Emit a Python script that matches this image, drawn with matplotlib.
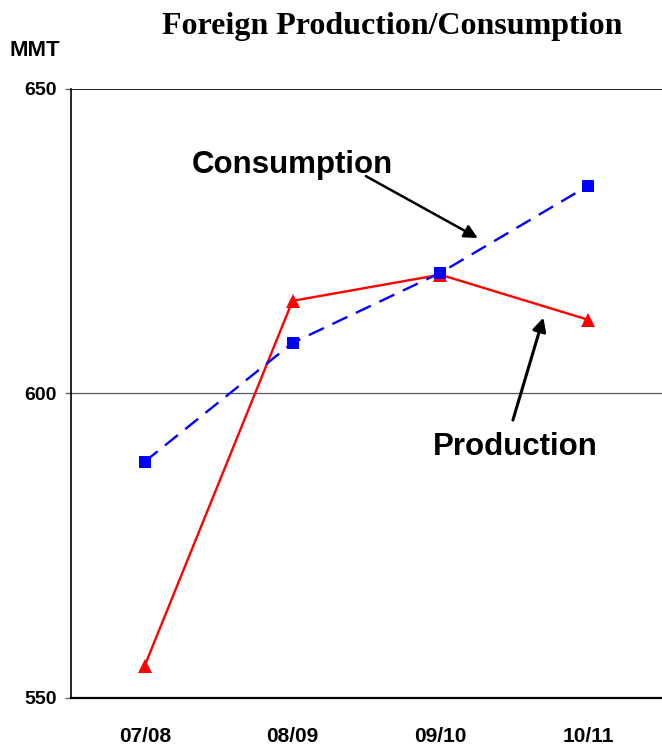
import matplotlib.pyplot as plt

# -------------------------------
# Data
# -------------------------------
years = ["07/08", "08/09", "09/10", "10/11"]
consumption = [588.8, 608.3, 619.8, 634.1]
production = [555.3, 615.2, 619.5, 612.1]
y_ticks = [550, 600, 650]

# -------------------------------
# Figure
# -------------------------------
fig = plt.figure(figsize=(6.62, 7.51), dpi=100)
ax = fig.add_axes([0.107, 0.0706, 0.893, 0.811])

x = range(len(years))
ax.plot(x, production, color="red", linewidth=1.7, marker="^", markersize=10,
        markeredgewidth=0, zorder=3)
ax.plot(x, consumption, color="blue", linewidth=1.7, linestyle=(0, (7, 4)),
        marker="s", markersize=8, markeredgewidth=0, zorder=4)

ax.set_xlim(-0.5, 3.5)
ax.set_ylim(550, 650)
ax.set_yticks(y_ticks)
ax.set_yticklabels([str(v) for v in y_ticks], fontsize=14, fontweight="bold",
                   family="Liberation Sans")
ax.set_xticks(list(x))
ax.set_xticklabels(years, fontsize=15, fontweight="bold", family="Liberation Sans")
ax.tick_params(axis="x", length=0, pad=21)
ax.tick_params(axis="y", length=4, width=1, pad=6, color="0.4")

# gridlines at 600 and 650
ax.axhline(650, color="black", linewidth=1.2, zorder=1)
ax.axhline(600, color="0.35", linewidth=0.9, zorder=1)

ax.spines["top"].set_visible(False)
ax.spines["right"].set_visible(False)
ax.spines["left"].set_linewidth(1.2)
ax.spines["bottom"].set_linewidth(1.6)

# annotations
ax.annotate("", xy=(2.27, 625.3), xytext=(1.48, 635.9),
            arrowprops=dict(arrowstyle="-|>", color="black", lw=1.8,
                            mutation_scale=20))
ax.text(1.0, 637.5, "Consumption", ha="center", va="center", fontsize=22.5,
        fontweight="bold", family="Liberation Sans")
ax.annotate("", xy=(2.703, 612.9), xytext=(2.486, 595.2),
            arrowprops=dict(arrowstyle="-|>", color="black", lw=2.2,
                            mutation_scale=20))
ax.text(2.51, 591.2, "Production", ha="center", va="center", fontsize=22.5,
        fontweight="bold", family="Liberation Sans")

fig.text(0.592, 0.965, "Foreign Production/Consumption", ha="center", va="center",
         fontsize=23, fontweight="bold", family="Liberation Serif")
fig.text(0.014, 0.933, "MMT", ha="left", va="center", fontsize=16,
         fontweight="bold", family="Liberation Sans")

plt.savefig("out.png", dpi=100)
